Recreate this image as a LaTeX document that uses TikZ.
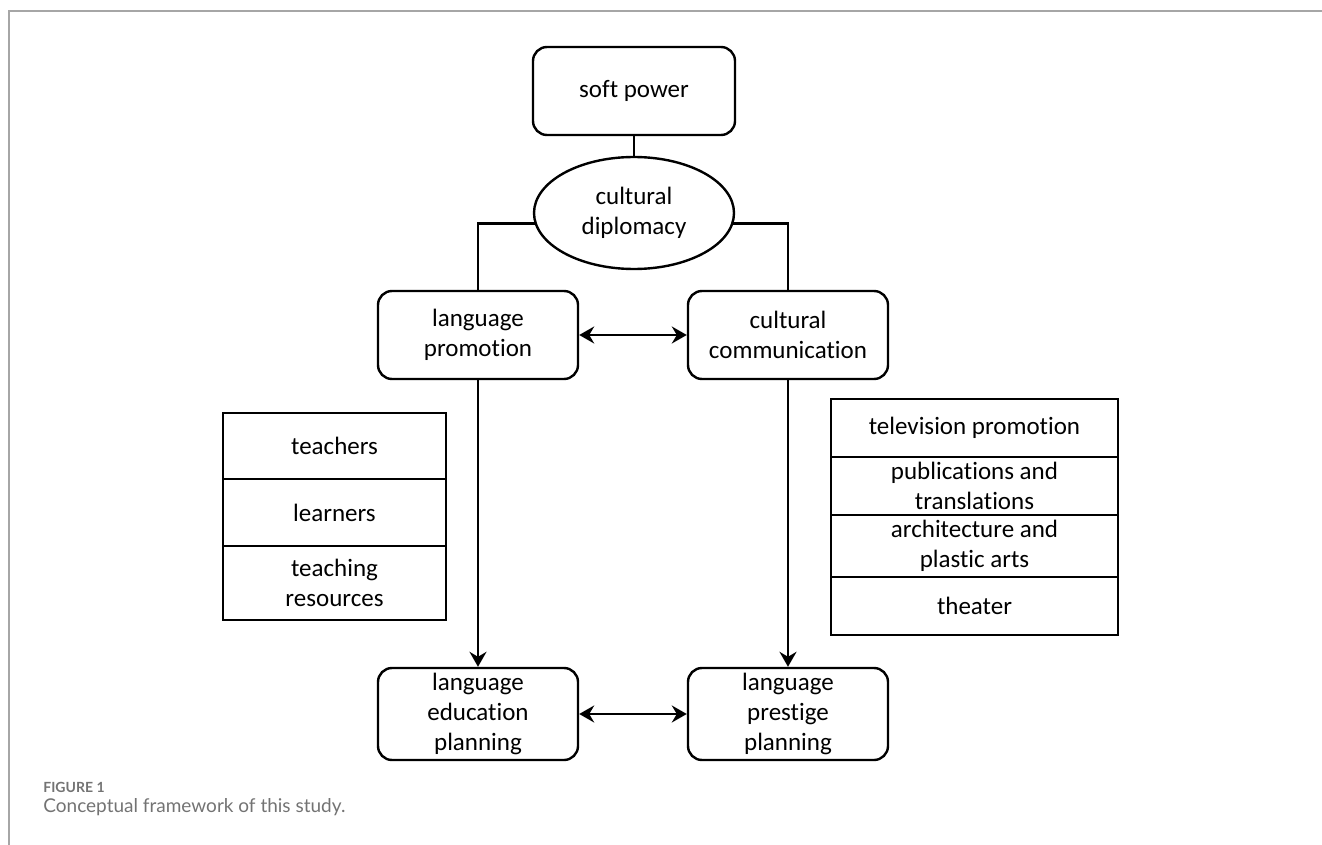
\documentclass[tikz,border=0pt]{standalone}
\usepackage{fontspec}
\setmainfont[Ligatures=NoCommon]{Carlito}
\newfontfamily\capfont{Lato}
\usetikzlibrary{shapes.geometric,positioning,arrows.meta}

\begin{document}
\begin{tikzpicture}[x=0.5pt, y=-0.5pt,
    boxfont/.style={font=\fontsize{12.5}{15}\selectfont},
    roundbox/.style={rectangle, rounded corners=7pt, draw=black, line width=1.2pt, boxfont, align=center, inner sep=0pt, minimum width=100pt, minimum height=44pt},
    cellbox/.style={rectangle, draw=black, line width=1.2pt, boxfont, align=center, inner sep=0pt, outer sep=0pt},
    link/.style={draw=black, line width=1.2pt},
    oneway/.style={link, -{Stealth[length=7.5pt,width=8.5pt,inset=2.5pt]}},
    twoway/.style={link, {Stealth[length=7.5pt,width=8.5pt,inset=2.5pt]}-{Stealth[length=7.5pt,width=8.5pt,inset=2.5pt]}}]

    \useasboundingbox (0,0) rectangle (1322,845);

    % page frame
    \draw[black!35, line width=1pt] (9,845) -- (9,11) -- (1322,11);

    % soft power and cultural diplomacy at the top
    \node[roundbox, minimum width=101pt] (soft) at (634,91) {soft power};
    \node[ellipse, draw=black, line width=1.2pt, boxfont, align=center, inner sep=0pt, minimum width=100pt, minimum height=56pt] (diplo) at (634,213) {cultural\\diplomacy};

    % middle layer
    \node[roundbox] (promo) at (478,335) {language\\promotion};
    \node[roundbox] (commun) at (788,335) {cultural\\communication};

    % planning at the bottom
    \node[roundbox, minimum height=46pt] (edu) at (478,714) {language\\education\\planning};
    \node[roundbox, minimum height=46pt] (prestige) at (788,714) {language\\prestige\\planning};

    % left stack
    \node[cellbox, minimum width=111.5pt, minimum height=33pt] (teachers) at (334.5,446) {teachers};
    \node[cellbox, minimum width=111.5pt, minimum height=33.5pt, below=0pt of teachers] (learners) {learners};
    \node[cellbox, minimum width=111.5pt, minimum height=37pt, below=0pt of learners] (resources) {teaching\\resources};

    % right stack
    \node[cellbox, minimum width=143.5pt, minimum height=29pt] (tv) at (974.5,428) {television promotion};
    \node[cellbox, minimum width=143.5pt, minimum height=29pt, below=0pt of tv] (publish) {publications and\\translations};
    \node[cellbox, minimum width=143.5pt, minimum height=31pt, below=0pt of publish] (arch) {architecture and\\plastic arts};
    \node[cellbox, minimum width=143.5pt, minimum height=29pt, below=0pt of arch] (theater) {theater};

    % connections
    \draw[link] (soft) -- (diplo);
    \draw[link] (diplo.186) -| (promo.north);
    \draw[link] (diplo.354) -| (commun.north);
    \draw[twoway] (promo) -- (commun);
    \draw[oneway] (promo) -- (edu);
    \draw[oneway] (commun) -- (prestige);
    \draw[twoway] (edu) -- (prestige);

    % caption
    \node[anchor=base west, inner sep=0pt, text=black!55, font=\capfont\bfseries\fontsize{7}{8}\selectfont] (figlabel) at (43,792) {FIGURE 1};
    \node[anchor=base west, inner sep=0pt, text=black!55, font=\capfont\fontsize{9.5}{11}\selectfont] (figcaption) at (43,812) {Conceptual framework of this study.};

\end{tikzpicture}
\end{document}
